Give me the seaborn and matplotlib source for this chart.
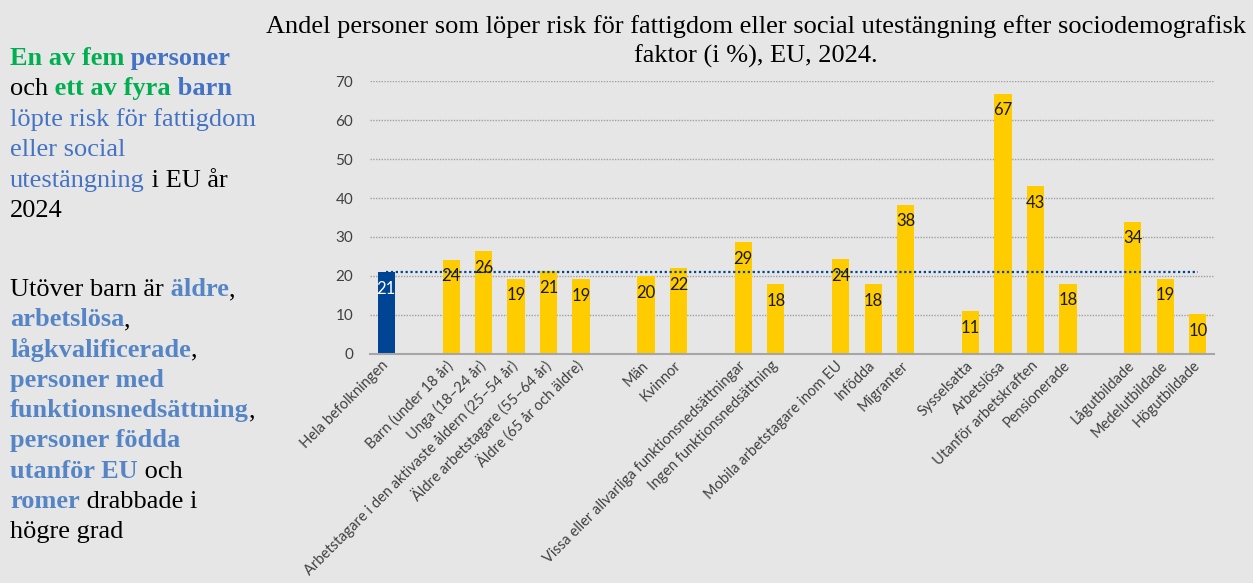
import matplotlib
matplotlib.use("Agg")
import matplotlib.pyplot as plt
import seaborn as sns
import pandas as pd
import numpy as np

# ---------------- data ----------------
categories = [
    "Hela befolkningen",
    "Barn (under 18 år)", "Unga (18–24 år)",
    "Arbetstagare i den aktivaste åldern (25–54 år)",
    "Äldre arbetstagare (55–64 år)", "Äldre (65 år och äldre)",
    "Män", "Kvinnor",
    "Vissa eller allvarliga funktionsnedsättningar", "Ingen funktionsnedsättning",
    "Mobila arbetstagare inom EU", "Infödda", "Migranter",
    "Sysselsatta", "Arbetslösa", "Utanför arbetskraften", "Pensionerade",
    "Lågutbildade", "Medelutbildade", "Högutbildade",
]
values = [21.0, 24.2, 26.3, 19.3, 21.2, 19.2, 20.0, 22.0, 28.7, 17.9,
          24.3, 17.9, 38.3, 10.9, 66.8, 43.1, 18.0, 33.9, 19.3, 10.2]
group_sizes = [1, 5, 2, 2, 3, 4, 3]
kind = ["total"] + ["grupp"] * (len(categories) - 1)
yticks = [0, 10, 20, 30, 40, 50, 60, 70]

title_lines = ["Andel personer som löper risk för fattigdom eller social utestängning efter sociodemografisk",
               "faktor (i %), EU, 2024."]

# ---------------- style ----------------
BG = "#E6E6E6"
GOLD = "#FFCC00"
DBLUE = "#004494"
GREEN = "#00B050"
BLUE1 = "#4472C4"
BLUE2 = "#5585C5"
TXT = "#404040"

sns.set_theme(style="white")
plt.rcParams['font.family'] = ['Lato', 'DejaVu Sans']

W, H = 1253, 583
fig = plt.figure(figsize=(W / 100, H / 100), dpi=100, facecolor=BG)
ax = fig.add_axes([370 / W, 1 - 353.7 / H, (1214 - 370) / W, (353.7 - 81.3) / H])
ax.set_facecolor(BG)

# category order with gaps between groups
order = []
i = 0
for gi, n in enumerate(group_sizes):
    if gi > 0:
        order.append(f"__gap{gi}")
    for _ in range(n):
        order.append(categories[i])
        i += 1

df = pd.DataFrame({"kategori": categories, "andel": values, "typ": kind})
sns.barplot(data=df, x="kategori", y="andel", hue="typ", order=order,
            palette={"total": DBLUE, "grupp": GOLD}, dodge=False, width=0.53,
            saturation=1, errorbar=None, legend=False, ax=ax, linewidth=0)

ax.set_xlim(-0.5, len(order) - 0.5)
ax.set_ylim(0, 70)
ax.set_yticks(yticks)
ax.set_xlabel("")
ax.set_ylabel("")

ax.yaxis.grid(True, color="#A0A0A0", linestyle=(0, (1, 1)), lw=1.0)
ax.xaxis.grid(False)
ax.set_axisbelow(True)
for s in ["left", "top", "right"]:
    ax.spines[s].set_visible(False)
ax.spines["bottom"].set_color("#A6A6A6")
ax.spines["bottom"].set_linewidth(1.5)

ax.set_xticks(range(len(order)))
ax.set_xticklabels(["" if c.startswith("__gap") else c for c in order])
ax.tick_params(axis="x", which="major", length=0, pad=7, labelsize=10.5, labelcolor=TXT)
plt.setp(ax.get_xticklabels(), rotation=45, ha="right", va="center", rotation_mode="anchor")
ax.set_xticks(np.arange(-0.5, len(order), 1), minor=True)
ax.tick_params(axis="x", which="minor", length=5, width=1.2, color="#A6A6A6", direction="out")
ax.tick_params(axis="y", length=0, pad=12, labelsize=11, labelcolor=TXT)

# reference dotted line at overall value
ax.hlines(values[0], 0, len(order) - 1, colors=DBLUE, linestyles=(0, (1, 1.2)), lw=1.6, zorder=3)

# value labels
for c, v, k in zip(categories, values, kind):
    x = order.index(c)
    ax.annotate(f"{round(v)}", xy=(x, v), xytext=(0, -12), textcoords="offset points",
                ha="center", va="center", fontsize=12,
                color="white" if k == "total" else "#1a1a1a", zorder=4)

# title
for j, line in enumerate(title_lines):
    fig.text(756 / W, 1 - (33 + 30 * j) / H, line, ha="center", va="baseline",
             fontsize=19, family="Liberation Serif", color="black")

# left rich text
tax = fig.add_axes([0, 0, 1, 1], facecolor="none")
tax.axis("off")

block1 = [
    [("En av fem", GREEN, "bold"), (" personer", BLUE1, "bold")],
    [("och", "black", "normal"), (" ett av fyra", GREEN, "bold"), (" barn", BLUE1, "bold")],
    [("löpte risk för fattigdom", BLUE1, "normal")],
    [("eller social", BLUE1, "normal")],
    [("utestängning", BLUE1, "normal"), (" i EU år", "black", "normal")],
    [("2024", "black", "normal")],
]
block2 = [
    [("Utöver barn är", "black", "normal"), (" äldre", BLUE2, "bold"), (",", "black", "normal")],
    [("arbetslösa", BLUE2, "bold"), (",", "black", "normal")],
    [("lågkvalificerade", BLUE2, "bold"), (",", "black", "normal")],
    [("personer med", BLUE2, "bold")],
    [("funktionsnedsättning", BLUE2, "bold"), (",", "black", "normal")],
    [("personer födda", BLUE2, "bold")],
    [("utanför EU", BLUE2, "bold"), (" och", "black", "normal")],
    [("romer", BLUE2, "bold"), (" drabbade i", "black", "normal")],
    [("högre grad", "black", "normal")],
]


def draw_block(lines, x0, y0, step, size=19):
    for li, parts in enumerate(lines):
        prev = None
        for s, col, wt in parts:
            kw = dict(fontsize=size, color=col, fontweight=wt, family="Liberation Serif",
                      annotation_clip=False)
            if prev is None:
                prev = tax.annotate(s, xy=(x0, H - (y0 + step * li)), xycoords="figure pixels",
                                    ha="left", va="baseline", **kw)
            else:
                prev = tax.annotate(s, xy=(1, 0), xycoords=prev, ha="left", va="bottom", **kw)


draw_block(block1, 10, 65, 30.4)
draw_block(block2, 10, 296, 30.3)

fig.savefig("out.png", dpi=100, facecolor=BG)
